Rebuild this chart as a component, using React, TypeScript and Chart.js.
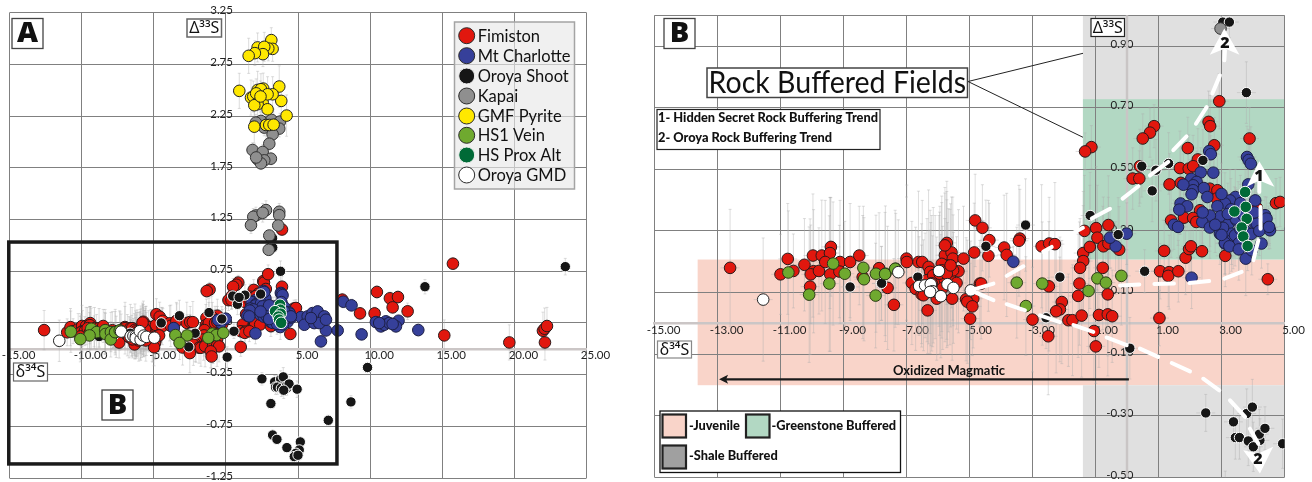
import React, { useEffect, useRef } from "react";
import { Chart, registerables } from "chart.js";

Chart.register(...registerables);

// [δ34S, Δ33S, Δ33S error]
const fimiston = [
  [-12.6,.18,.19],[-11,.159,.13],[-10.77,.209,.18],[-10.59,.17,.12],[-10.24,.19,.15],[-9.97,.22,.2],[-9.69,.22,.18],[-9.95,.169,.2],[-10.04,.159,.16],[-9.78,.17,.14],
  [-10.06,.119,.22],[-9.4,.248,.16],[-9.43,.228,.18],[-9.58,.199,.2],[-9.42,.159,.25],[-9.11,.199,.2],[-8.79,.199,.19],[-8.5,.22,.16],[-9.13,.168,.15],[-8.39,.15,.2],
  [-7.87,.179,.18],[-7.6,.115,.2],[-7.4,.06,.15],[-7,.21,.2],[-6.99,.199,.25],[-6.62,.199,.23],[-6.5,.199,.2],[-6.3,.183,.25],[-5.72,.261,.2],[-5.78,.221,.22],
  [-5.57,.23,.18],[-5.53,.21,.2],[-5.72,.188,.24],[-5.88,.193,.22],[-5.35,.169,.2],[-5.19,.21,.17],[-4.85,.23,.16],[-4.82,.334,.15],[-4.59,.31,.14],[-4.4,.219,.18],
  [-4.37,.27,.12],[-3.9,.246,.17],[-3.82,.222,.2],[-3.4,.275,.16],[-3.43,.268,.18],[-2.71,.25,.2],[-2.47,.259,.15],[-2.29,.257,.2],[-4.67,.129,.14],[-4.88,.08,.16],
  [-5.11,.078,.2],[-5.07,.07,.2],[-4.91,.055,.16],[-4.98,.015,.18],[-5.55,.08,.2],[-6.33,.042,.14],[-6.83,.131,.2],[-6.71,.112,.2],[-6.52,.094,.16],[-6.09,.15,.2],
  [-5.94,.14,.24],[-5.78,.14,.2],[-5.62,.15,.22],[-5.41,.131,.15],[-6.04,.08,.2],[-6.25,.167,.2],[-5.88,.172,.22],[-5.67,.172,.2],[-5.52,.172,.18],[-6.35,.14,.2],
  [-6.15,.156,.22],[-5.95,.161,.2],[-5.72,.161,.24],[-6.46,.091,.18],[-6.2,.13,.22],[-5.85,.115,.2],[-5.6,.188,.2],[-5.78,.253,.17],
  [-4.63,.129,.18],[-1.13,.572,.07],[-1.33,.558,.06],[.86,.64,.07],[.73,.619,.08],[.5,.6,.08],[2.59,.654,.1],[2.64,.64,.1],[2.93,.721,.09],[3.89,.6,.1],
  [2.77,.578,.09],[1.93,.569,.1],[.41,.51,.12],[2.25,.532,.1],[1.68,.504,.12],[1.96,.502,.11],[2.1,.51,.1],[.18,.47,.1],[.39,.47,.09],[1.35,.451,.1],
  [1.71,.456,.12],[2.63,.437,.1],[2.87,.432,.12],[4.73,.39,.08],[2.32,.367,.12],[1.81,.343,.1],[2.1,.342,.09],[1.4,.334,.12],[2.2,.329,.1],[2.85,.405,.1],
  [4.12,.375,.1],[-.59,.319,.16],[-.98,.309,.2],[-1.35,.3,.18],[-.94,.278,.17],[-1.39,.228,.2],[-1.39,.202,.18],[-1.18,.248,.2],[-1.49,.18,.16],[-.77,.18,.2],
  [-.75,.25,.16],[-.59,.259,.15],[-.25,.239,.14],[-1.51,.129,.2],[-1.55,.089,.2],[-.61,.094,.2],[-2.48,.12,.21],[-2.07,.069,.2],[-2.13,.045,.17],[-2.25,.039,.2],
  [-3,.012,.17],[-1.86,.01,.15],[-1.73,.01,.18],[-1.44,.025,.2],[-.89,.027,.17],[-.61,.029,.2],[-.47,.023,.15],[-1.05,-.025,.16],[-2.5,-.042,.19],[-.99,-.075,.12],
  [1.18,.235,.1],[1.86,.213,.12],[1.97,.241,.1],[2.03,.25,.1],[2.38,.234,.1],[3.12,.219,.1],[1.05,.169,.09],[1.34,.166,.12],[1.31,.154,.1],[1.63,.169,.1],
  [1.03,.017,.09],[4.47,.143,.05],
  [3.89,1.153,.04],[4.86,.394,.08],[8.07,.475,.06],[9.3,.342,.05],[15.74,.823,.05],[10.47,.549,.06],[11.37,.488,.06],[11.93,.5,.06],[11.56,.4,.05],[12.6,.362,.08],
  [10.31,.342,.06],[15.14,.129,.15],[19.65,.061,.17],[21.98,.174,.18],[22.1,.194,.2],[22.26,.22,.18],[22.12,.061,.17],
];
const mtCharlotte = [
  [-3.61,.2,.05],[-.36,.25,.08],[2.05,.148,.1],[3.77,.21,.12],[3.11,.259,.1],[3.37,.267,.09],[4.27,.259,.08],[2.61,.559,.07],[2.34,.49,.08],[2.74,.489,.09],
  [2.04,.469,.1],[2.21,.459,.1],[2.1,.448,.09],[1.79,.45,.1],[2.1,.432,.1],[2.05,.419,.1],[2.44,.439,.1],[2.55,.41,.1],[1.7,.389,.1],[1.91,.38,.08],
  [1.66,.369,.08],[3.81,.54,.1],[3.86,.53,.1],[3.93,.518,.12],[3.85,.451,.1],[3.44,.41,.09],[3.27,.399,.1],[3.11,.389,.1],[2.87,.38,.1],[4.07,.399,.09],
  [2.97,.347,.08],[2.63,.35,.1],[2.39,.329,.08],[2.63,.311,.1],[1.49,.32,.08],[4.38,.351,.06],[4.43,.34,.07],[4.49,.311,.07],[4.54,.302,.06],[3.22,.323,.1],
  [2.95,.291,.1],[3.32,.291,.1],[3.9,.34,.1],[4.07,.323,.08],[-.01,.291,.1],[-.54,.278,.1],[3.53,.36,.1],[3.32,.269,.1],[3.11,.261,.1],[3.43,.286,.1],
  [3.96,.237,.08],[3.96,.356,.1],[4.12,.324,.1],[3.48,.334,.1],[3.3,.37,.1],[3.6,.305,.09],
  [3.6,.39,.09],[3.45,.34,.1],[3.2,.355,.1],[3.05,.31,.09],[3.75,.3,.1],[3.95,.29,.09],[3.55,.26,.1],[3.7,.35,.1],[4.05,.36,.08],[4.2,.3,.08],
  [2.8,.32,.09],[3,.42,.1],[2.4,.36,.1],[3.25,.25,.09],[3.55,.24,.1],
  [5.2,.306,.05],[5.67,.313,.05],[6.01,.345,.05],[6.36,.361,.05],[6.82,.313,.05],[5.44,.232,.05],[6.94,.177,.05],[7.75,.177,.05],[6.59,.071,.05],[6.13,.248,.05],
  [6.48,.248,.05],[6.94,.281,.05],[5.9,.297,.05],[8.14,.455,.06],[8.71,.42,.06],[9.41,.139,.05],[10.4,.258,.05],[11.09,.265,.05],[11.97,.271,.05],[13.34,.181,.06],
  [10.75,.216,.05],[10.98,.232,.05],[11.33,.249,.05],[11.79,.216,.05],[11.56,.239,.05],[10.63,.249,.05],[1.62,.313,.06],[3,.287,.08],[4.51,.313,.06],[2.66,.549,.06],
];
const oroyaShoot = [
  [-8.79,.118,.1],[-7.8,.129,.12],[-6.64,.15,.15],[-7.79,.13,.12],[-4.48,.25,.15],[-3.22,.319,.15],[3.04,.978,.05],[3.25,.978,.05],[3.79,.749,.1],[2.41,.529,.1],
  [.47,.51,.1],[1.32,.519,.1],[.8,.43,.1],[.92,.497,.1],[-1.17,.35,.14],[-.28,.288,.12],[-2.13,.15,.13],[.56,.169,.07],[.09,-.081,.1],[-2.57,.018,.1],
  [2.5,-.291,.06],[3.38,-.32,.06],[3.8,-.293,.08],[3.98,-.272,.09],[3.44,-.371,.07],[3.57,-.371,.07],[3.85,-.382,.08],[4.22,-.38,.07],[4.2,-.36,.08],[4.38,-.341,.07],
  [4.01,-.401,.08],[4.94,-.391,.08],[3.24,1.07,.05],[3.12,-.53,.05],[3.24,-.834,.05],[3.54,-.876,.05],[4.23,-.956,.04],[5.16,-.901,.05],[5.09,-.979,.04],[4.86,-1.011,.04],
  [4.74,-1.043,.04],[5,-1.03,.04],[7.1,-.692,.05],[9.82,-.181,.05],[8.67,-.514,.06],[13.8,.6,.07],[23.53,.794,.08],
];
const kapai = [
  [2.43,2.203,.08],[2.08,2.187,.08],[3.17,2.213,.08],[3.75,2.197,.08],[3.7,2.129,.08],[2.66,2.139,.08],[3.24,2.074,.08],[3.01,1.983,.07],[1.85,1.922,.07],[2.55,1.903,.07],
  [3.12,1.838,.06],[2.2,1.832,.06],[2.66,1.822,.06],[2.43,1.793,.06],[2.1,1.85,.06],[2.78,1.341,.09],[3.7,1.325,.08],[2.08,1.289,.08],[1.9,1.276,.08],[2.55,1.315,.09],
  [3.7,1.292,.08],[1.74,1.195,.08],[3.63,1.192,.07],[3.01,1.095,.05],[2.97,.957,.05],
];
const gmfPyrite = [
  [3.15,2.985,.12],[2.2,2.914,.14],[3.24,2.9,.12],[2.94,2.904,.12],[2.66,2.92,.14],[2.57,2.849,.12],[2.01,2.859,.12],[1.58,2.833,.17],[.93,2.494,.17],[3.7,2.536,.2],
  [3.84,2.397,.15],[3.24,2.461,.17],[1.74,2.429,.17],[1.9,2.439,.15],[2.2,2.503,.18],[2.59,2.516,.15],[2.43,2.51,.15],[2.1,2.47,.14],[2.55,2.381,.15],[2.2,2.365,.15],
  [1.97,2.355,.15],[2.89,2.316,.16],[2.89,2.461,.17],[4.21,2.255,.2],[1.97,2.148,.16],[2.78,2.164,.16],[3.01,2.164,.15],[3.31,2.167,.15],[2.4,2.44,.15],
];
const hs1Vein = [
  [-10.75,.165,.2],[-9.33,.194,.2],[-8.96,.161,.17],[-8.37,.18,.2],[-8.35,.143,.2],[-7.97,.161,.19],[-7.67,.161,.22],[-7.34,.177,.18],[-9.45,.129,.22],[-10.09,.093,.22],
  [-7.98,.09,.17],[-7.68,.16,.2],[-7.36,.177,.19],[-3.5,.132,.18],[-2.69,.129,.2],[-3.21,.056,.16],[-.94,.146,.2],[-.67,.132,.18],[-1.22,.105,.2],[-.18,.154,.16],
];
const hsProxAlt = [
  [3.75,.426,.08],[3.77,.378,.08],[3.41,.363,.08],[3.8,.339,.08],[3.64,.311,.08],[3.69,.282,.08],[3.83,.251,.08],
];
const oroyaGmd = [
  [-11.55,.077,.2],[-7.26,.166,.17],[-6.52,.123,.2],[-6.6,.121,.16],[-6.41,.123,.17],[-6.23,.127,.2],[-6.17,.104,.18],[-6.25,.102,.2],[-5.91,.088,.2],[-5.97,.17,.18],
  [-5.7,.127,.2],[-5.51,.115,.18],[-4.96,.107,.16],
];
const seriesNames = ["Fimiston","Mt Charlotte","Oroya Shoot","Kapai","GMF Pyrite","HS1 Vein","HS Prox Alt","Oroya GMD"];
const seriesValues = [fimiston, mtCharlotte, oroyaShoot, kapai, gmfPyrite, hs1Vein, hsProxAlt, oroyaGmd];
const fills = ["#e1170e","#36409a","#161616","#8f8f8f","#ffe800","#6fa92f","#006a37","#ffffff"];
const edges = ["#2a1a1a","#1d1f45","#ffffff","#333333","#222222","#2c3a18","#ffffff","#222222"];

const xTicksA = [-15,-10,-5,0,5,10,15,20,25];
const yTicksA = [-1.25,-.75,-.25,.25,.75,1.25,1.75,2.25,2.75,3.25];
const xTicksB = [-15,-13,-11,-9,-7,-5,-3,-1,1,3,5];
const yTicksB = [-.5,-.3,-.1,.1,.3,.5,.7,.9,1];
const xRangeErr = 0.3;

// field rectangles: [xMin, xMax, yMin, yMax]
const juvenile = [-13.63, 5, -.201, .207];
const greenstone = [-1.4, 5, .207, .728];
const shaleTop = [-1.4, 5, .728, 1];
const shaleBottom = [-1.4, 5, -.5, -.201];
const insetB = [-15.05, 7.7, -1.114, 1.032];

// white dashes, [x1,y1,x2,y2]
const upperTrend = [[-4.96,.107,-4.24,.129],[-3.82,.154,-3.29,.185],[-2.66,.232,-2.39,.248],[-1.95,.28,-1.4,.31],[-1.12,.34,-.54,.372],[-.14,.405,.36,.445],[.73,.48,1.31,.524],[1.47,.562,1.89,.607],[2.19,.648,2.53,.702],[2.71,.746,2.95,.805],[3.09,.854,3.11,.886]];
const lowerTrend = [[-4.96,.107,-4.24,.075],[-3.82,.062,-3.24,.042],[-2.76,.026,-2.13,.004],[-1.7,-.006,-1.07,-.028],[-.65,-.046,-.01,-.071],[.41,-.082,.99,-.109],[1.42,-.129,2,-.156],[2.42,-.18,2.93,-.218],[3.27,-.25,3.75,-.304],[3.9,-.342,4.17,-.391]];
const middleTrend = [[-.22,.123,.39,.126],[.87,.128,1.49,.129],[1.98,.131,2.61,.137],[3.09,.145,3.64,.167],[4.01,.205,4.17,.27],[4.24,.307,4.24,.378],[4.2,.426,4.2,.464]];
// arrow heads: tip, wing, notch, wing
const arrowHeads = [
  [[3.09,.957],[2.63,.872],[3.11,.892],[3.57,.872]],
  [[4.22,-.488],[3.69,-.412],[4.17,-.423],[4.64,-.401]],
  [[4.2,.526],[3.8,.443],[4.2,.464],[4.68,.443]],
];
const oxidizedArrow = [.06, -12.95, -.182];

const FONT = "Lato, 'Open Sans', sans-serif";
const HEAVY = "'Open Sans', sans-serif";

function tag(ctx: any, text: string, x: number, y: number, w: number, h: number, font: string, stroke = "#444", lw = 1.3) {
  ctx.fillStyle = "#fff";
  ctx.fillRect(x, y, w, h);
  ctx.strokeStyle = stroke;
  ctx.lineWidth = lw;
  ctx.strokeRect(x, y, w, h);
  ctx.fillStyle = "#111";
  ctx.font = font;
  ctx.textAlign = "center";
  ctx.textBaseline = "middle";
  ctx.fillText(text, x + w / 2, y + h / 2 + 0.5, w - 3);
}

function whiskers(chart: any) {
  const { ctx, chartArea: a, scales } = chart;
  ctx.save();
  ctx.beginPath();
  ctx.rect(a.left, a.top, a.right - a.left, a.bottom - a.top);
  ctx.clip();
  ctx.lineWidth = 1;
  ctx.strokeStyle = "rgba(175,175,175,0.42)";
  chart.data.datasets.forEach((d: any) => {
    d.data.forEach((p: any) => {
      const px = scales.x.getPixelForValue(p.x);
      const py = scales.y.getPixelForValue(p.y);
      const t = scales.y.getPixelForValue(p.y + p.e);
      const b = scales.y.getPixelForValue(p.y - p.e);
      const l = scales.x.getPixelForValue(p.x - xRangeErr);
      const r = scales.x.getPixelForValue(p.x + xRangeErr);
      ctx.beginPath();
      ctx.moveTo(px, t); ctx.lineTo(px, b);
      ctx.moveTo(px - 1.5, t); ctx.lineTo(px + 1.5, t);
      ctx.moveTo(px - 1.5, b); ctx.lineTo(px + 1.5, b);
      ctx.moveTo(l, py); ctx.lineTo(r, py);
      ctx.stroke();
    });
  });
  ctx.restore();
}

const panelA = {
  id: "panelA",
  beforeDatasetsDraw: whiskers,
  afterDraw(chart: any) {
    const { ctx, scales: { x, y } } = chart;
    ctx.save();
    ctx.strokeStyle = "#1a1a1a";
    ctx.lineWidth = 3.5;
    const [x0, x1, y0, y1] = insetB;
    ctx.strokeRect(x.getPixelForValue(x0), y.getPixelForValue(y1), x.getPixelForValue(x1) - x.getPixelForValue(x0), y.getPixelForValue(y0) - y.getPixelForValue(y1));
    tag(ctx, "A", 12, 18.5, 31, 30, `800 29px ${HEAVY}`);
    tag(ctx, "B", 102, 390, 31, 30, `800 29px ${HEAVY}`);
    tag(ctx, "Δ³³S", 187, 19, 34.5, 18, `16px 'Noto Sans', sans-serif`, "#666", 1.5);
    tag(ctx, "δ³⁴S", 13.5, 363, 34, 18, `16px 'Noto Sans', sans-serif`, "#666", 1.2);
    ctx.fillStyle = "rgba(232,232,232,0.65)";
    ctx.fillRect(454.5, 22, 120, 167);
    ctx.strokeStyle = "#a4a4a4";
    ctx.lineWidth = 1.5;
    ctx.strokeRect(454.5, 22, 120, 167);
    const rows = [35.7, 55.7, 76, 96, 116, 135.3, 155, 175];
    chart.data.datasets.forEach((d: any, i: number) => {
      ctx.beginPath();
      ctx.arc(466.7, rows[i], 8, 0, Math.PI * 2);
      ctx.fillStyle = d.backgroundColor;
      ctx.fill();
      ctx.lineWidth = 1;
      ctx.strokeStyle = i === 2 || i === 6 ? "#f0f0f0" : "#2a2a2a";
      ctx.stroke();
      ctx.fillStyle = "#111";
      ctx.font = `16.5px ${FONT}`;
      ctx.textAlign = "left";
      ctx.textBaseline = "middle";
      ctx.fillText(d.label, 477.7, rows[i] + 0.5);
    });
    ctx.restore();
  },
};

const panelB = {
  id: "panelB",
  beforeDraw(chart: any) {
    const { ctx, scales: { x, y } } = chart;
    const rect = (r: number[], c: string) => {
      ctx.fillStyle = c;
      ctx.fillRect(x.getPixelForValue(r[0]), y.getPixelForValue(r[3]), x.getPixelForValue(r[1]) - x.getPixelForValue(r[0]), y.getPixelForValue(r[2]) - y.getPixelForValue(r[3]));
    };
    rect(juvenile, "#f9d4c9");
    rect(greenstone, "#b2d8c3");
    rect(shaleTop, "#e0e0e0");
    rect(shaleBottom, "#e0e0e0");
  },
  beforeDatasetsDraw(chart: any) {
    const { ctx, chartArea: a, scales: { x } } = chart;
    ctx.save();
    ctx.strokeStyle = "#c9c5c5";
    ctx.lineWidth = 2.5;
    ctx.beginPath();
    ctx.moveTo(x.getPixelForValue(0), a.top);
    ctx.lineTo(x.getPixelForValue(0), a.bottom);
    ctx.stroke();
    ctx.restore();
    whiskers(chart);
  },
  afterDraw(chart: any) {
    const { ctx, scales: { x, y } } = chart;
    ctx.save();
    ctx.translate(-640, 0);
    const ox = 640;
    const X = (v: number) => x.getPixelForValue(v) + ox;
    const Y = (v: number) => y.getPixelForValue(v);
    ctx.strokeStyle = "#ffffff";
    ctx.lineWidth = 4;
    ctx.lineCap = "round";
    [...upperTrend, ...lowerTrend, ...middleTrend].forEach((s) => {
      ctx.beginPath();
      ctx.moveTo(X(s[0]), Y(s[1]));
      ctx.lineTo(X(s[2]), Y(s[3]));
      ctx.stroke();
    });
    ctx.lineCap = "butt";
    ctx.fillStyle = "#ffffff";
    arrowHeads.forEach((h) => {
      ctx.beginPath();
      h.forEach((p, i) => (i ? ctx.lineTo(X(p[0]), Y(p[1])) : ctx.moveTo(X(p[0]), Y(p[1]))));
      ctx.closePath();
      ctx.fill();
    });
    ctx.fillStyle = "#111";
    ctx.font = `800 16px ${HEAVY}`;
    ctx.textAlign = "center";
    ctx.textBaseline = "middle";
    ctx.fillText("2", 1225, 43.5);
    ctx.fillText("1", 1259, 176);
    ctx.fillText("2", 1258, 459);

    // oxidized magmatic arrow
    ctx.strokeStyle = "#1a1a1a";
    ctx.lineWidth = 2.2;
    const ay = Y(oxidizedArrow[2]);
    ctx.beginPath();
    ctx.moveTo(X(oxidizedArrow[0]), ay);
    ctx.lineTo(X(oxidizedArrow[1]) + 6, ay);
    ctx.stroke();
    ctx.fillStyle = "#1a1a1a";
    ctx.beginPath();
    ctx.moveTo(X(oxidizedArrow[1]), ay);
    ctx.lineTo(X(oxidizedArrow[1]) + 9, ay - 4.5);
    ctx.lineTo(X(oxidizedArrow[1]) + 7, ay);
    ctx.lineTo(X(oxidizedArrow[1]) + 9, ay + 4.5);
    ctx.closePath();
    ctx.fill();
    ctx.fillStyle = "#111";
    ctx.font = `bold 13px ${FONT}`;
    ctx.fillText("Oxidized Magmatic", 949, 370.5);

    // leader lines
    ctx.strokeStyle = "#222";
    ctx.lineWidth = 1;
    ctx.beginPath();
    ctx.moveTo(968, 81.5); ctx.lineTo(1083, 53.3);
    ctx.moveTo(968, 81.5); ctx.lineTo(1083, 137.3);
    ctx.stroke();

    tag(ctx, "B", 664, 18.5, 31, 30, `800 29px ${HEAVY}`);
    tag(ctx, "Rock Buffered Fields", 707, 68, 260.5, 29.5, `30px ${FONT}`, "#444", 1.5);
    tag(ctx, "Δ³³S", 1091, 18.5, 33.5, 18, `16px 'Noto Sans', sans-serif`, "#222", 1.2);
    tag(ctx, "δ³⁴S", 657.5, 341, 34, 17, `16px 'Noto Sans', sans-serif`, "#888", 1.2);

    ctx.fillStyle = "#fff";
    ctx.fillRect(657, 109.5, 223, 40);
    ctx.strokeStyle = "#222";
    ctx.lineWidth = 1.2;
    ctx.strokeRect(657, 109.5, 223, 40);
    ctx.fillStyle = "#111";
    ctx.font = `900 12.8px ${FONT}`;
    ctx.textAlign = "left";
    ctx.fillText("1- Hidden Secret Rock Buffering Trend", 658, 118);
    ctx.fillText("2- Oroya Rock Buffering Trend", 658, 138);

    ctx.fillStyle = "#fff";
    ctx.fillRect(660, 411, 240.5, 61.5);
    ctx.strokeStyle = "#111";
    ctx.lineWidth = 1.3;
    ctx.strokeRect(660, 411, 240.5, 61.5);
    const swatch = (px: number, py: number, c: string) => {
      ctx.fillStyle = c;
      ctx.fillRect(px, py, 23.5, 23);
      ctx.strokeStyle = "#222";
      ctx.lineWidth = 2.2;
      ctx.strokeRect(px, py, 23.5, 23);
    };
    swatch(662.5, 414.5, "#f9d4c9");
    swatch(746, 414.5, "#b2d8c3");
    swatch(662.5, 445.5, "#a0a0a0");
    ctx.fillStyle = "#111";
    ctx.font = `900 12.8px ${FONT}`;
    ctx.textAlign = "left";
    ctx.fillText("-Juvenile", 689, 426);
    ctx.fillText("-Greenstone Buffered", 771.5, 426);
    ctx.fillText("-Shale Buffered", 689, 456);
    ctx.restore();
  },
};

const noScalePadding = (s: any) => {
  s.paddingLeft = 0; s.paddingRight = 0; s.paddingTop = 0; s.paddingBottom = 0;
};

function config(xTicks: number[], yTicks: number[], xMin: number, xMax: number, yMin: number, yMax: number, yPos: number, padding: any, plugin: any, hidden: number[]) {
  return {
    type: "scatter",
    data: {
      datasets: seriesNames.map((label, i) => ({
        label,
        data: seriesValues[i].map((p) => ({ x: p[0], y: p[1], e: p[2] })),
        backgroundColor: fills[i],
        borderColor: edges[i],
        borderWidth: 1,
        pointRadius: i === 2 ? 5.2 : 5.8,
        order: seriesNames.length - i,
        clip: 0,
      })),
    },
    options: {
      responsive: false,
      animation: false,
      events: [],
      layout: { padding, autoPadding: false },
      plugins: { legend: { display: false }, tooltip: { enabled: false }, title: { display: false } },
      scales: {
        x: {
          type: "linear",
          min: xMin,
          max: xMax,
          position: { y: 0 },
          afterFit: noScalePadding,
          afterBuildTicks: (s: any) => { s.ticks = xTicks.map((value) => ({ value })); },
          grid: { color: "#808080", lineWidth: 1, drawTicks: false },
          border: { display: true, color: "#cbc6c6", width: 2.5 },
          ticks: {
            autoSkip: false, maxRotation: 0, labelOffset: 9, padding: 0, color: "#222",
            font: { family: FONT, size: 11.5 },
            callback: (v: number) => (hidden.includes(v) ? "" : v.toFixed(2)),
          },
        },
        y: {
          type: "linear",
          min: yMin,
          max: yMax,
          position: { x: yPos },
          afterFit: noScalePadding,
          afterBuildTicks: (s: any) => { s.ticks = yTicks.map((value) => ({ value })); },
          grid: { color: "#808080", lineWidth: 1, drawTicks: false },
          border: { display: false },
          ticks: {
            autoSkip: false, labelOffset: -2, color: "#222",
            font: { family: FONT, size: 11.5 },
            callback: (v: number) => (v === 1 ? "" : v.toFixed(2)),
          },
        },
      },
    },
    plugins: [plugin],
  } as any;
}

export default function App() {
  const a = useRef<HTMLCanvasElement>(null);
  const b = useRef<HTMLCanvasElement>(null);
  useEffect(() => {
    const ca = new Chart(a.current as any, config(xTicksA, yTicksA, -15, 25, -1.25, 3.25, 0.49,
      { left: 9.5, right: 53.5, top: 12.7, bottom: 4 }, panelA, [0]));
    const cb = new Chart(b.current as any, config(xTicksB, yTicksB, -15, 5, -.5, 1, 0.2,
      { left: 14.5, right: 27.5, top: 15.3, bottom: 4.7 }, panelB, []));
    return () => { ca.destroy(); cb.destroy(); };
  }, []);
  return (
    <div style={{ position: "fixed", left: 0, top: 0, width: 1312, height: 482, background: "#fff", overflow: "hidden" }}>
      <canvas ref={a} width={640} height={482} style={{ position: "absolute", left: 0, top: 0, width: 640, height: 482 }} />
      <canvas ref={b} width={672} height={482} style={{ position: "absolute", left: 640, top: 0, width: 672, height: 482 }} />
    </div>
  );
}
